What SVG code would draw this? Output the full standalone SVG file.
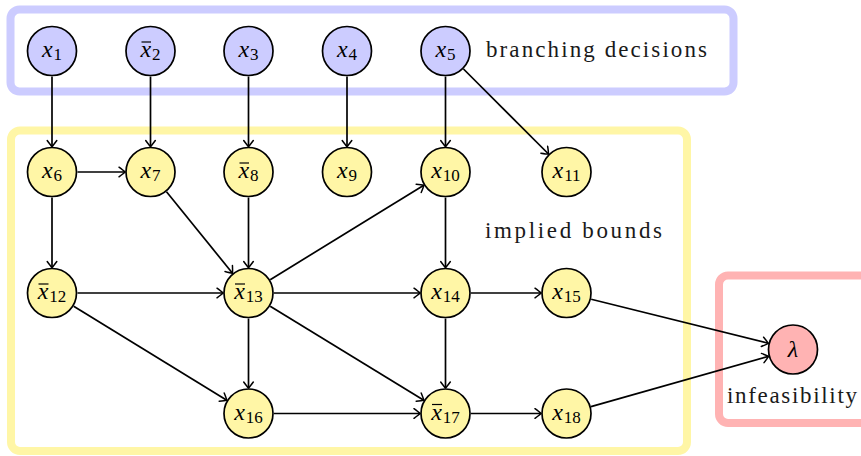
<svg xmlns="http://www.w3.org/2000/svg" width="861" height="456" viewBox="0 0 861 456" font-family="Liberation Serif, DejaVu Serif, serif">
<style>
.box{fill:none;stroke-width:8}
.nd{stroke:#000;stroke-width:1.7}
.blue{fill:#ccccff}
.yel{fill:#fff6a6}
.red{fill:#ffb3b3}
.lbl{font-size:24px;fill:#000;text-anchor:middle}
.v{font-style:italic}
.s{font-size:17px;font-style:normal}
.bar{stroke:#000;stroke-width:1.2}
.txt{font-size:23px;fill:#1a1a1a}
.e{stroke:#000;stroke-width:1.7;fill:none;marker-end:url(#arr)}
</style>
<defs>
<marker id="arr" markerUnits="userSpaceOnUse" viewBox="-8 -6 10 12" refX="0" refY="0" markerWidth="10" markerHeight="12" orient="auto">
<path d="M-6,-4.8 Q-1.5,-1.5 0,0 Q-1.5,1.5 -6,4.8" fill="none" stroke="#000" stroke-width="1.5" stroke-linecap="round"/>
</marker>
</defs>
<rect width="861" height="456" fill="#fff"/>
<g id="regions">
<rect class="box" x="10.5" y="9.5" width="723" height="82" rx="9" stroke="#ccccff"/>
<rect class="box" x="11" y="130.5" width="676" height="320.5" rx="9" stroke="#fff6a6"/>
<rect class="box" x="719" y="275.5" width="160" height="147.5" rx="9" stroke="#ffb3b3"/>
</g>
<g id="edges">
<path class="e" d="M52,76.5V146.5"/>
<path class="e" d="M150.5,76.5V146.5"/>
<path class="e" d="M248.5,76.5V146.5"/>
<path class="e" d="M347,76.5V146.5"/>
<path class="e" d="M445.5,76.5V146.5"/>
<path class="e" d="M463.5,69L548.5,154"/>
<path class="e" d="M77.5,172H125"/>
<path class="e" d="M52,197.5V267.5"/>
<path class="e" d="M166.5,191.8L232.5,273.2"/>
<path class="e" d="M248.5,197.5V267.5"/>
<path class="e" d="M445.5,197.5V267.5"/>
<path class="e" d="M77.5,293H223"/>
<path class="e" d="M270.2,279.7L423.8,185.3"/>
<path class="e" d="M274,293H420"/>
<path class="e" d="M471,293H541"/>
<path class="e" d="M248.5,318.5V388"/>
<path class="e" d="M270.2,306.3L423.8,400.2"/>
<path class="e" d="M73.7,306.3L226.8,400.2"/>
<path class="e" d="M445.5,318.5V388"/>
<path class="e" d="M274,413.5H420"/>
<path class="e" d="M471,413.5H541"/>
<path class="e" d="M591.2,299.2L768.3,343.3"/>
<path class="e" d="M591,406.6L768.5,356.4"/>
</g>
<g id="x1"><circle class="nd blue" cx="52" cy="51" r="24.5"/><text class="lbl" x="52" y="57"><tspan class="v">x</tspan><tspan class="s" dx="1" dy="3">1</tspan></text></g>
<g id="x2"><circle class="nd blue" cx="150.5" cy="51" r="24.5"/><text class="lbl" x="150.5" y="57"><tspan class="v">x</tspan><tspan class="s" dx="1" dy="3">2</tspan></text><path class="bar" d="M141.5,42H151"/></g>
<g id="x3"><circle class="nd blue" cx="248.5" cy="51" r="24.5"/><text class="lbl" x="248.5" y="57"><tspan class="v">x</tspan><tspan class="s" dx="1" dy="3">3</tspan></text></g>
<g id="x4"><circle class="nd blue" cx="347" cy="51" r="24.5"/><text class="lbl" x="347" y="57"><tspan class="v">x</tspan><tspan class="s" dx="1" dy="3">4</tspan></text></g>
<g id="x5"><circle class="nd blue" cx="445.5" cy="51" r="24.5"/><text class="lbl" x="445.5" y="57"><tspan class="v">x</tspan><tspan class="s" dx="1" dy="3">5</tspan></text></g>
<g id="x6"><circle class="nd yel" cx="52" cy="172" r="24.5"/><text class="lbl" x="52" y="178"><tspan class="v">x</tspan><tspan class="s" dx="1" dy="3">6</tspan></text></g>
<g id="x7"><circle class="nd yel" cx="150.5" cy="172" r="24.5"/><text class="lbl" x="150.5" y="178"><tspan class="v">x</tspan><tspan class="s" dx="1" dy="3">7</tspan></text></g>
<g id="x8"><circle class="nd yel" cx="248.5" cy="172" r="24.5"/><text class="lbl" x="248.5" y="178"><tspan class="v">x</tspan><tspan class="s" dx="1" dy="3">8</tspan></text><path class="bar" d="M239.5,163H249"/></g>
<g id="x9"><circle class="nd yel" cx="347" cy="172" r="24.5"/><text class="lbl" x="347" y="178"><tspan class="v">x</tspan><tspan class="s" dx="1" dy="3">9</tspan></text></g>
<g id="x10"><circle class="nd yel" cx="445.5" cy="172" r="24.5"/><text class="lbl" x="445.5" y="178"><tspan class="v">x</tspan><tspan class="s" dx="1" dy="3">10</tspan></text></g>
<g id="x11"><circle class="nd yel" cx="566.5" cy="172" r="24.5"/><text class="lbl" x="566.5" y="178"><tspan class="v">x</tspan><tspan class="s" dx="1" dy="3">11</tspan></text></g>
<g id="x12"><circle class="nd yel" cx="52" cy="293" r="24.5"/><text class="lbl" x="52" y="299"><tspan class="v">x</tspan><tspan class="s" dx="1" dy="3">12</tspan></text><path class="bar" d="M38.5,284H48.5"/></g>
<g id="x13"><circle class="nd yel" cx="248.5" cy="293" r="24.5"/><text class="lbl" x="248.5" y="299"><tspan class="v">x</tspan><tspan class="s" dx="1" dy="3">13</tspan></text><path class="bar" d="M235,284H245"/></g>
<g id="x14"><circle class="nd yel" cx="445.5" cy="293" r="24.5"/><text class="lbl" x="445.5" y="299"><tspan class="v">x</tspan><tspan class="s" dx="1" dy="3">14</tspan></text></g>
<g id="x15"><circle class="nd yel" cx="566.5" cy="293" r="24.5"/><text class="lbl" x="566.5" y="299"><tspan class="v">x</tspan><tspan class="s" dx="1" dy="3">15</tspan></text></g>
<g id="x16"><circle class="nd yel" cx="248.5" cy="413.5" r="24.5"/><text class="lbl" x="248.5" y="419.5"><tspan class="v">x</tspan><tspan class="s" dx="1" dy="3">16</tspan></text></g>
<g id="x17"><circle class="nd yel" cx="445.5" cy="413.5" r="24.5"/><text class="lbl" x="445.5" y="419.5"><tspan class="v">x</tspan><tspan class="s" dx="1" dy="3">17</tspan></text><path class="bar" d="M432,404.5H442"/></g>
<g id="x18"><circle class="nd yel" cx="566.5" cy="413.5" r="24.5"/><text class="lbl" x="566.5" y="419.5"><tspan class="v">x</tspan><tspan class="s" dx="1" dy="3">18</tspan></text></g>
<g id="lambda"><circle class="nd red" cx="793" cy="349.5" r="24.5"/><text class="lbl" x="793" y="357"><tspan class="v">λ</tspan></text></g>
<g id="labels">
<text class="txt" x="486" y="57" textLength="221">branching decisions</text>
<text class="txt" x="485" y="238" textLength="177">implied bounds</text>
<text class="txt" x="727" y="403" textLength="130">infeasibility</text>
</g>
</svg>
